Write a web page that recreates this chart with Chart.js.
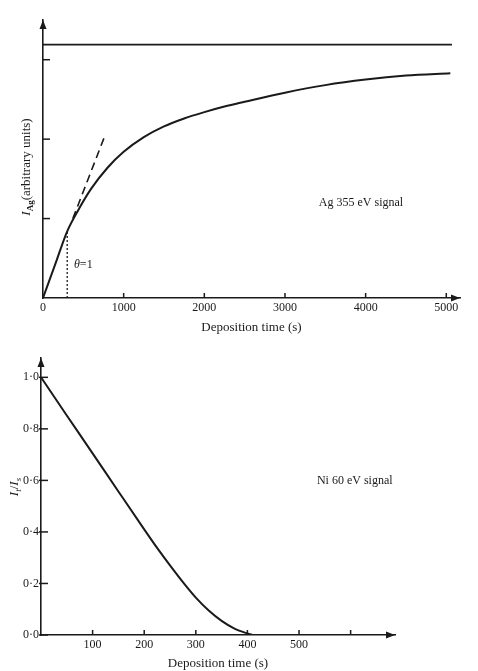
<!DOCTYPE html>
<html><head><meta charset="utf-8">
<script src="https://cdn.jsdelivr.net/npm/chart.js@4/dist/chart.umd.min.js"></script>
<style>
html,body{margin:0;padding:0;background:#fff;width:478px;height:671px;overflow:hidden}
.c{position:absolute;left:0;width:478px}
#top{top:0;height:335px}
#bot{top:335px;height:336px}
</style></head><body>
<div class="c" id="top"><canvas id="c1"></canvas></div>
<div class="c" id="bot"><canvas id="c2"></canvas></div>
<script>
// ---- Top panel: Ag 355 eV signal (arbitrary units) ----
const agTime   = [0, 150, 300, 450, 600, 800, 1000, 1250, 1500, 1750, 2000, 2250, 2500, 3000, 3500, 4000, 4500, 5050];
const agSignal = [0, 0.42, 0.84, 1.13, 1.38, 1.64, 1.84, 2.025, 2.16, 2.26, 2.34, 2.41, 2.47, 2.585, 2.68, 2.75, 2.80, 2.83];
const agSatTime   = [0, 5070];
const agSatSignal = [3.19, 3.19];
const tangentTime   = [370, 770];
const tangentSignal = [1.0, 2.05];
const monoTime   = [300, 300];
const monoSignal = [0, 0.84];
const agXTicks = [0, 1000, 2000, 3000, 4000, 5000];

// ---- Bottom panel: Ni 60 eV signal ----
const niTime  = [0, 50, 100, 150, 200, 225, 250, 275, 300, 325, 350, 375, 400, 410];
const niRatio = [1.0, 0.852, 0.705, 0.557, 0.41, 0.338, 0.27, 0.205, 0.145, 0.095, 0.055, 0.025, 0.006, 0.0];
const niXTicks = [100, 200, 300, 400, 500];
const niYTicks = [0.0, 0.2, 0.4, 0.6, 0.8, 1.0];

const INK = '#1a1a1a';
const SERIF = '"Liberation Serif", "DejaVu Serif", serif';
Chart.defaults.font.family = SERIF;
Chart.defaults.color = INK;

const pts = (xs, ys) => xs.map((x, i) => ({x, y: ys[i]}));

function drawParts(ctx, parts, x, y, align) {
  let w = 0;
  parts.forEach(p => { ctx.font = p.font; p.w = ctx.measureText(p.t).width; w += p.w; });
  let cx = align === 'center' ? x - w / 2 : x;
  parts.forEach(p => {
    ctx.font = p.font;
    ctx.fillText(p.t, cx, y + (p.dy || 0));
    cx += p.w;
  });
}

const deco = {
  id: 'deco',
  afterDraw(chart, args, o) {
    const ctx = chart.ctx, a = chart.chartArea, xs = chart.scales.x, ys = chart.scales.y;
    ctx.save();
    ctx.strokeStyle = INK; ctx.fillStyle = INK; ctx.lineWidth = 1.5;
    xs.ticks.forEach(t => {
      if (t.value === 0) return;
      const px = xs.getPixelForValue(t.value);
      ctx.beginPath(); ctx.moveTo(px, a.bottom); ctx.lineTo(px, a.bottom - o.xTick); ctx.stroke();
    });
    ys.ticks.forEach(t => {
      if (t.value === 0 && !o.yZero) return;
      const py = ys.getPixelForValue(t.value);
      ctx.beginPath(); ctx.moveTo(a.left - o.yOut, py); ctx.lineTo(a.left + o.yTick, py); ctx.stroke();
    });
    // axis arrowheads
    ctx.beginPath(); ctx.moveTo(a.left, a.top); ctx.lineTo(a.left - 3.5, a.top + 9); ctx.lineTo(a.left + 3.5, a.top + 9); ctx.closePath(); ctx.fill();
    ctx.beginPath(); ctx.moveTo(a.right, a.bottom); ctx.lineTo(a.right - 9, a.bottom - 3.5); ctx.lineTo(a.right - 9, a.bottom + 3.5); ctx.closePath(); ctx.fill();
    // annotations
    ctx.textBaseline = 'middle';
    (o.notes || []).forEach(n => {
      ctx.textAlign = 'left';
      drawParts(ctx, n.parts, xs.getPixelForValue(n.x), ys.getPixelForValue(n.y), n.align);
    });
    // rotated y title
    if (o.yTitle) {
      ctx.translate(o.yTitle.x, o.yTitle.y);
      ctx.rotate(-Math.PI / 2);
      ctx.textAlign = 'left';
      drawParts(ctx, o.yTitle.parts, 0, 0, 'center');
    }
    ctx.restore();
  }
};

const lineDs = (data, extra) => Object.assign({
  data, borderColor: INK, borderWidth: 2, pointRadius: 0, fill: false, tension: 0
}, extra);

const f = (s, st) => (st ? st + ' ' : '') + s + 'px ' + SERIF;

new Chart(document.getElementById('c1'), {
  type: 'line',
  data: { datasets: [
    lineDs(pts(agSatTime, agSatSignal), {borderWidth: 1.8}),
    lineDs(pts(agTime, agSignal), {cubicInterpolationMode: 'monotone', tension: 0.4}),
    lineDs(pts(tangentTime, tangentSignal), {borderWidth: 1.6, borderDash: [8, 5]}),
    lineDs(pts(monoTime, monoSignal), {borderWidth: 1.3, borderDash: [2, 2]})
  ]},
  options: {
    responsive: true, maintainAspectRatio: false, animation: false,
    layout: { padding: { left: 43, right: 18, top: 20, bottom: 0 } },
    plugins: {
      legend: { display: false }, tooltip: { enabled: false },
      deco: {
        xTick: 5, yTick: 7, yOut: 0, yZero: false,
        notes: [
          { x: 3943, y: 1.20, align: 'center', parts: [{t: 'Ag 355 eV signal', font: f(12)}] },
          { x: 384, y: 0.415, align: 'left', parts: [{t: 'θ', font: f(12, 'italic')}, {t: '=1', font: f(12)}] }
        ],
        yTitle: { x: 27, y: 167, parts: [
          {t: 'I', font: f(13, 'italic')},
          {t: 'Ag', font: f(9, 'bold'), dy: 4},
          {t: '(arbitrary units)', font: f(13)}
        ]}
      }
    },
    scales: {
      x: {
        type: 'linear', min: 0, max: 5170,
        afterFit: s => { s.height = 37; },
        afterBuildTicks: s => { s.ticks = agXTicks.map(v => ({value: v})); },
        ticks: { padding: 3, font: {size: 12}, color: INK, maxRotation: 0, callback: v => String(v) },
        grid: { display: false, drawTicks: false },
        border: { display: true, color: INK, width: 1.6 },
        title: { display: true, text: 'Deposition time (s)', font: {size: 13}, color: INK, padding: {top: 0, bottom: 0} }
      },
      y: {
        type: 'linear', min: 0, max: 3.5,
        afterFit: s => { s.width = 0; },
        ticks: { display: false, stepSize: 1, includeBounds: false },
        grid: { display: false, drawTicks: false },
        border: { display: true, color: INK, width: 1.6 }
      }
    }
  },
  plugins: [deco]
});

new Chart(document.getElementById('c2'), {
  type: 'line',
  data: { datasets: [
    lineDs(pts(niTime, niRatio), {cubicInterpolationMode: 'monotone', tension: 0.4})
  ]},
  options: {
    responsive: true, maintainAspectRatio: false, animation: false,
    layout: { padding: { left: 0, right: 83, top: 23, bottom: 0 } },
    plugins: {
      legend: { display: false }, tooltip: { enabled: false },
      deco: {
        xTick: 5, yTick: 7, yOut: 2, yZero: true,
        notes: [
          { x: 608, y: 0.60, align: 'center', parts: [{t: 'Ni 60 eV signal', font: f(12)}] }
        ],
        yTitle: { x: 15, y: 152, parts: [
          {t: 'I', font: f(13, 'italic')},
          {t: 't', font: f(9, 'italic'), dy: 4},
          {t: '/', font: f(13)},
          {t: 'I', font: f(13, 'italic')},
          {t: 's', font: f(9, 'italic'), dy: 4}
        ]}
      }
    },
    scales: {
      x: {
        type: 'linear', min: 0, max: 686,
        afterFit: s => { s.height = 36; },
        ticks: { padding: 3, stepSize: 100, includeBounds: false, font: {size: 12}, color: INK, maxRotation: 0,
                 callback: v => niXTicks.includes(v) ? String(v) : '' },
        grid: { display: false, drawTicks: false },
        border: { display: true, color: INK, width: 1.6 },
        title: { display: true, text: 'Deposition time (s)', font: {size: 13}, color: INK, padding: {top: 0, bottom: 0} }
      },
      y: {
        type: 'linear', min: 0, max: 1.075,
        afterFit: s => { s.width = 41; },
        afterBuildTicks: s => { s.ticks = niYTicks.map(v => ({value: v})); },
        ticks: { padding: 2, font: {size: 12}, color: INK, callback: v => Number(v).toFixed(1).replace('.', '·') },
        grid: { display: false, drawTicks: false },
        border: { display: true, color: INK, width: 1.6 }
      }
    }
  },
  plugins: [deco]
});
</script>
</body></html>
